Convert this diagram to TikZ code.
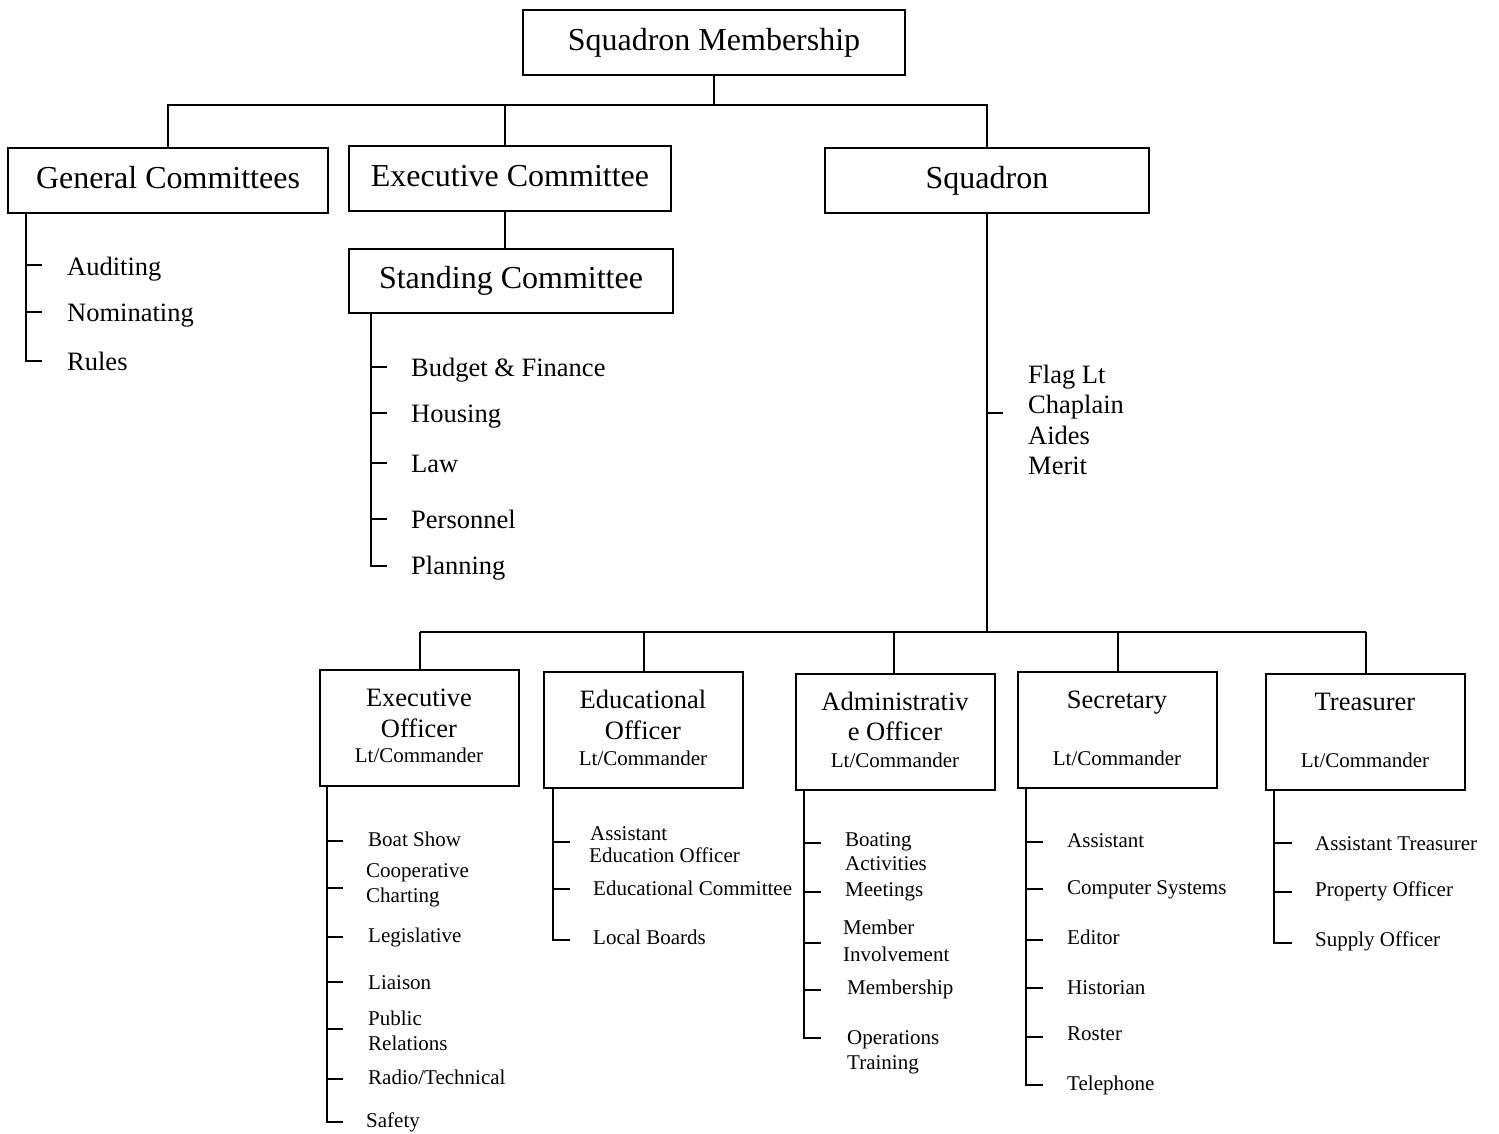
\documentclass[tikz,border=0pt]{standalone}
\usepackage{fontspec}
\setmainfont{Liberation Serif}
\begin{document}
\begin{tikzpicture}[x=1pt,y=-1pt,
  box/.style={draw, line width=2pt, inner sep=0pt, text depth=0pt},
  big/.style={font=\fontsize{32}{38}\selectfont, text height=15pt},
  mid/.style={font=\fontsize{26.5}{30}\selectfont, text height=18pt},
  small/.style={font=\fontsize{21}{25}\selectfont, text height=15pt},
  item/.style={anchor=west, inner sep=0pt, text depth=0pt},
  lbl/.style={inner sep=0pt, text depth=0pt},
  wire/.style={line width=2pt}]
\useasboundingbox (0,0) rectangle (1499,1133);

% ---- top level boxes
\node[box,big,minimum width=382pt,minimum height=65pt] (top) at (714,42.5) {Squadron Membership};
\node[box,big,minimum width=320pt,minimum height=65pt] (gen) at (168,180.5) {General Committees};
\node[box,big,minimum width=322pt,minimum height=65pt] (exec) at (510,178.5) {Executive Committee};
\node[box,big,minimum width=324pt,minimum height=65pt] (squad) at (987,180.5) {Squadron};
\node[box,big,minimum width=324pt,minimum height=64pt] (stand) at (511,281) {Standing Committee};

\coordinate (busA) at (714,105);
\coordinate (ej) at (505,105);
\draw[wire] (top.south) -- (busA);
\draw[wire] (gen.north) -- (gen.north |- busA) -- (squad.north |- busA) -- (squad.north);
\draw[wire] (ej) -- (ej |- exec.north);
\draw[wire] (exec.south -| ej) -- (stand.north -| ej);

% ---- general committees list
\draw[wire] (26,0 |- gen.south) -- (26,361) -- (42,361);
\foreach \y in {265,312} \draw[wire] (26,\y) -- (42,\y);
\node[item,mid] (aud) at (67,266) {Auditing};
\node[item,mid] (nom) at (67,312) {Nominating};
\node[item,mid] (rul) at (67,361) {Rules};

% ---- standing committee list
\draw[wire] (371,0 |- stand.south) -- (371,566) -- (387,566);
\foreach \y in {367,413,463,519} \draw[wire] (371,\y) -- (387,\y);
\node[item,mid] (bud) at (411,367) {Budget \& Finance};
\node[item,mid] (hou) at (411,413) {Housing};
\node[item,mid] (law) at (411,463) {Law};
\node[item,mid] (per) at (411,519) {Personnel};
\node[item,mid] (pla) at (411,565) {Planning};

% ---- squadron staff
\coordinate (busB) at (987,632);
\draw[wire] (squad.south) -- (busB);
\draw[wire] (987,413) -- (1003,413);
\node[item,mid] (fl) at (1028,374) {Flag Lt};
\node[item,mid] (ch) at (1028,404) {Chaplain};
\node[item,mid] (ai) at (1028,435) {Aides};
\node[item,mid] (me) at (1028,465) {Merit};

% ---- officer boxes
\node[box,minimum width=199pt,minimum height=116pt] (eo) at (419.5,728) {};
\node[box,minimum width=199pt,minimum height=116pt] (ed) at (643.5,730) {};
\node[box,minimum width=199pt,minimum height=116pt] (ad) at (895.5,732) {};
\node[box,minimum width=199pt,minimum height=116pt] (se) at (1117.5,730) {};
\node[box,minimum width=199pt,minimum height=116pt] (tr) at (1365.5,732) {};

\draw[wire] (420,632) -- (1366,632);
\draw[wire] (eo.north |- busB) -- (eo.north);
\draw[wire] (ed.north |- busB) -- (ed.north);
\draw[wire] (894,632) -- (894,0 |- ad.north);
\draw[wire] (se.north |- busB) -- (se.north);
\draw[wire] (tr.north |- busB) -- (tr.north);

\node[lbl,mid] (eo1) at (419,697) {Executive};
\node[lbl,mid] (eo2) at (419,728) {Officer};
\node[lbl,small] (eo3) at (419,755) {Lt/Commander};
\node[lbl,mid] (ed1) at (643,699) {Educational};
\node[lbl,mid] (ed2) at (643,730) {Officer};
\node[lbl,small] (ed3) at (643,758) {Lt/Commander};
\node[lbl,mid] (ad1) at (895,701) {Administrativ};
\node[lbl,mid] (ad2) at (895,731) {e Officer};
\node[lbl,small] (ad3) at (895,760) {Lt/Commander};
\node[lbl,mid] (se1) at (1117,699) {Secretary};
\node[lbl,small] (se3) at (1117,758) {Lt/Commander};
\node[lbl,mid] (tr1) at (1365,701) {Treasurer};
\node[lbl,small] (tr3) at (1365,760) {Lt/Commander};

% ---- executive officer list
\draw[wire] (327,0 |- eo.south) -- (327,1122) -- (343,1122);
\foreach \y in {841,888,937,982,1029,1079} \draw[wire] (327,\y) -- (343,\y);
\node[item,small] (e1) at (368,839) {Boat Show};
\node[item,small] (e2a) at (366,870) {Cooperative};
\node[item,small] (e2b) at (366,895) {Charting};
\node[item,small] (e3) at (368,935) {Legislative};
\node[item,small] (e4) at (368,982) {Liaison};
\node[item,small] (e5a) at (368,1018) {Public};
\node[item,small] (e5b) at (368,1043) {Relations};
\node[item,small] (e6) at (368,1077) {Radio/Technical};
\node[item,small] (e7) at (366,1120) {Safety};

% ---- educational officer list
\draw[wire] (553,0 |- ed.south) -- (553,940) -- (570,940);
\foreach \y in {842,889} \draw[wire] (553,\y) -- (570,\y);
\node[item,small] (d1a) at (590,833) {Assistant};
\node[item,small] (d1b) at (589,855) {Education Officer};
\node[item,small] (d2) at (593,888) {Educational Committee};
\node[item,small] (d3) at (593,937) {Local Boards};

% ---- administrative officer list
\draw[wire] (804,0 |- ad.south) -- (804,1038) -- (821,1038);
\foreach \y in {843,892,943,990} \draw[wire] (804,\y) -- (821,\y);
\node[item,small] (a1a) at (845,839) {Boating};
\node[item,small] (a1b) at (845,863) {Activities};
\node[item,small] (a2) at (845,889) {Meetings};
\node[item,small] (a3a) at (843,927) {Member};
\node[item,small] (a3b) at (843,954) {Involvement};
\node[item,small] (a4) at (847,987) {Membership};
\node[item,small] (a5a) at (847,1037) {Operations};
\node[item,small] (a5b) at (847,1062) {Training};

% ---- secretary list
\draw[wire] (1026,0 |- se.south) -- (1026,1085) -- (1043,1085);
\foreach \y in {842,889,940,988,1037} \draw[wire] (1026,\y) -- (1043,\y);
\node[item,small] (s1) at (1067,840) {Assistant};
\node[item,small] (s2) at (1067,887) {Computer Systems};
\node[item,small] (s3) at (1067,937) {Editor};
\node[item,small] (s4) at (1067,987) {Historian};
\node[item,small] (s5) at (1067,1033) {Roster};
\node[item,small] (s6) at (1067,1083) {Telephone};

% ---- treasurer list
\draw[wire] (1274,0 |- tr.south) -- (1274,943) -- (1292,943);
\foreach \y in {843,892} \draw[wire] (1274,\y) -- (1292,\y);
\node[item,small] (t1) at (1315,843) {Assistant Treasurer};
\node[item,small] (t2) at (1315,889) {Property Officer};
\node[item,small] (t3) at (1315,939) {Supply Officer};
\end{tikzpicture}
\end{document}
